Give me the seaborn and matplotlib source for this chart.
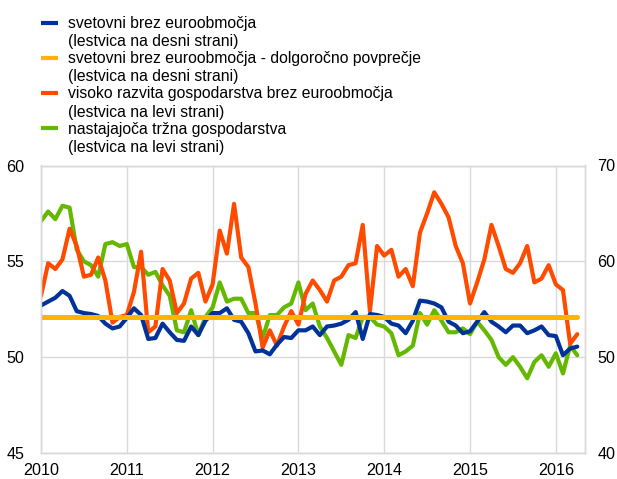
import numpy as np
import pandas as pd
import matplotlib
matplotlib.use("Agg")
import matplotlib.pyplot as plt
from matplotlib.lines import Line2D
import seaborn as sns

# ---------------- data ----------------
start_year = 2010
world_ex_ea = [  # right axis
    55.4, 55.8, 56.2, 56.9, 56.4, 54.8, 54.6, 54.5, 54.3, 53.5, 53.0, 53.2,
    54.1, 55.1, 54.4, 51.9, 52.0, 53.5, 52.6, 51.8, 51.7, 53.2, 52.3, 53.8,
    54.6, 54.6, 55.1, 53.9, 53.7, 52.5, 50.6, 50.7, 50.3, 51.3, 52.1, 52.0,
    52.8, 52.8, 53.2, 52.3, 53.2, 53.3, 53.5, 53.9, 54.7, 51.9, 54.5, 54.4,
    54.2, 53.5, 53.3, 52.5, 53.8, 55.9, 55.8, 55.6, 55.2, 53.7, 53.3, 52.5,
    52.7, 53.7, 54.7, 53.7, 53.2, 52.6, 53.3, 53.3, 52.5, 52.8, 53.2, 52.3,
    52.2, 50.2, 50.9, 51.1,
]
long_term_avg = 54.2  # right axis
advanced_ex_ea = [  # left axis
    53.2, 54.9, 54.6, 55.1, 56.7, 55.8, 54.2, 54.3, 55.2, 54.0, 51.8, 52.1,
    52.2, 53.4, 55.5, 51.3, 51.6, 54.6, 54.0, 52.3, 52.8, 54.1, 54.4, 52.9,
    53.8, 56.6, 55.4, 58.0, 55.2, 54.7, 52.8, 50.5, 51.4, 50.6, 51.6, 52.4,
    51.7, 53.3, 54.0, 53.5, 52.9, 54.0, 54.2, 54.8, 54.9, 56.9, 52.4, 55.8,
    55.3, 55.6, 54.2, 54.6, 53.7, 56.5, 57.5, 58.6, 58.0, 57.3, 55.8, 54.9,
    52.8, 53.9, 55.1, 56.9, 55.8, 54.6, 54.4, 54.9, 55.8, 53.9, 54.1, 54.8,
    53.8, 53.5, 50.7, 51.2,
]
emerging = [  # left axis
    57.1, 57.6, 57.2, 57.9, 57.8, 55.6, 55.0, 54.8, 54.2, 55.9, 56.0, 55.8,
    55.9, 54.7, 54.7, 54.3, 54.45, 53.75, 53.2, 51.4, 51.3, 52.45, 51.15, 52.1,
    52.6, 53.9, 52.9, 53.05, 53.05, 52.3, 52.3, 51.0, 52.2, 52.2, 52.6, 52.8,
    53.9, 52.45, 52.8, 51.6, 51.0, 50.3, 49.6, 51.15, 51.0, 52.1, 52.1, 51.7,
    51.6, 51.25, 50.1, 50.3, 50.6, 52.3, 51.7, 52.45, 51.9, 51.3, 51.3, 51.5,
    51.2, 51.85, 51.4, 50.9, 50.0, 49.6, 50.0, 49.5, 48.9, 49.75, 50.1, 49.5,
    50.2, 49.15, 50.6, 50.1,
]
legend_line1 = [
    "svetovni brez euroobmočja",
    "svetovni brez euroobmočja - dolgoročno povprečje",
    "visoko razvita gospodarstva brez euroobmočja",
    "nastajajoča tržna gospodarstva",
]
legend_line2 = [
    "(lestvica na desni strani)",
    "(lestvica na desni strani)",
    "(lestvica na levi strani)",
    "(lestvica na levi strani)",
]
year_ticks = [2010, 2011, 2012, 2013, 2014, 2015, 2016]
left_ticks = [45, 50, 55, 60]
right_ticks = [40, 50, 60, 70]

# ---------------- styling ----------------
c_blue, c_yellow, c_orange, c_green = "#003299", "#FFB400", "#FF4B00", "#65B800"
grid_c = "#d9d9d9"

sns.set_theme(style="white")
plt.rcParams["font.family"] = ["Liberation Sans", "DejaVu Sans"]
FS_LEG = 11.3
FS_TICK = 11.6

n = len(world_ex_ea)
df = pd.DataFrame({
    "t": start_year + np.arange(n) / 12.0,
    "world": world_ex_ea,
    "avg": [long_term_avg] * n,
    "adv": advanced_ex_ea,
    "em": emerging,
})

W, H = 617, 479
fig = plt.figure(figsize=(W / 100, H / 100), dpi=100)
L, R, T, B = 41, 585, 165.5, 453
ax = fig.add_axes([L / W, 1 - B / H, (R - L) / W, (B - T) / H])
ax2 = ax.twinx()

sns.lineplot(data=df, x="t", y="em", ax=ax, color=c_green, lw=3.0)
sns.lineplot(data=df, x="t", y="adv", ax=ax, color=c_orange, lw=3.0)
sns.lineplot(data=df, x="t", y="world", ax=ax2, color=c_blue, lw=3.0)
sns.lineplot(data=df, x="t", y="avg", ax=ax2, color=c_yellow, lw=3.6)

ax.set_xlim(2010, 2016.34)
ax.set_ylim(45, 60)
ax2.set_ylim(40, 70)
ax.set_xticks(year_ticks)
ax.set_xticklabels([str(y) for y in year_ticks])
ax.set_yticks(left_ticks)
ax2.set_yticks(right_ticks)
for a in (ax, ax2):
    a.set_xlabel("")
    a.set_ylabel("")
    for s in a.spines.values():
        s.set_color(grid_c)
        s.set_linewidth(1.0)
ax.grid(True, color=grid_c, lw=1.0)
ax2.grid(False)
ax.set_axisbelow(True)
ax.tick_params(axis="x", length=0, pad=7, labelsize=FS_TICK, labelcolor="black")
ax.tick_params(axis="y", length=0, pad=12, labelsize=FS_TICK, labelcolor="black")
ax2.tick_params(axis="y", length=0, pad=9, labelsize=FS_TICK, labelcolor="black")

# ---------------- legend ----------------
colors = [c_blue, c_yellow, c_orange, c_green]
for i in range(4):
    y1 = 23.5 + 35.2 * i
    y2 = y1 + 18.3
    fig.add_artist(Line2D([41 / W, 58 / W], [1 - (y1 - 1) / H] * 2,
                          color=colors[i], lw=3.0, solid_capstyle="butt"))
    fig.text(68 / W, 1 - y1 / H, legend_line1[i], fontsize=FS_LEG, va="center",
             ha="left", color="black")
    fig.text(68 / W, 1 - y2 / H, legend_line2[i], fontsize=FS_LEG, va="center",
             ha="left", color="black")

fig.savefig("out.png", dpi=100)
